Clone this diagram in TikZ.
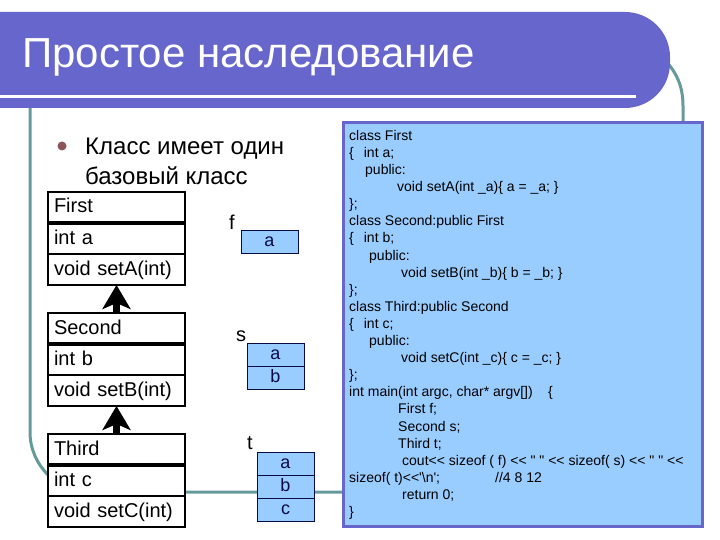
\documentclass[tikz,border=0pt]{standalone}
\usepackage{fontspec}
\setmainfont{Liberation Sans}
\newfontfamily\codefont{Liberation Sans}
\usetikzlibrary{positioning,arrows.meta}
\definecolor{bbtitle}{RGB}{102,102,204}
\definecolor{bbteal}{RGB}{102,153,153}
\definecolor{bbcell}{RGB}{153,204,255}
\definecolor{bbdot}{RGB}{140,85,90}
\definecolor{bbnavy}{RGB}{10,10,70}

\tikzset{
  row/.style={draw, fill=white, line width=1.5pt, outer sep=0pt, text width=125pt,
    inner xsep=6pt, inner ysep=0pt, minimum height=31pt, align=left,
    text height=15pt, text depth=4pt, font=\fontsize{20}{24}\selectfont},
  cell/.style={draw=bbnavy, line width=0.8pt, fill=bbcell, outer sep=0pt,
    minimum width=57pt, minimum height=23pt, inner sep=0pt, text=bbnavy,
    text height=12pt, text depth=3pt, font=\fontsize{18}{20}\selectfont},
  heir/.style={line width=7pt, -{Stealth[length=24pt,width=28pt,inset=6pt]}},
  varname/.style={font=\fontsize{20}{24}\selectfont}
}

\begin{document}
\begin{tikzpicture}[x=1pt,y=-1pt]
  \useasboundingbox (0,0) rectangle (720,540);
  % decoration lines
  \draw[bbteal,line width=3pt] (30,100) -- (30,432) arc[start angle=180,end angle=90,radius=60] -- (343,492);
  \draw[bbteal,line width=3pt] (660,55) .. controls (678,72) and (683,88) .. (683,106) -- (683,123);
  % title
  \fill[bbtitle] (0,12) [rounded corners=45pt] -- (670,12) -- (670,108) [sharp corners] -- (0,108) -- cycle;
  \draw[white,line width=3pt] (0,97) -- (636,97);
  \node[white,anchor=base west,inner sep=0pt,font=\fontsize{42}{48}\selectfont] (title) at (22,68) {Простое наследование};

  % code listing
  \filldraw[fill=bbcell,draw=bbtitle,line width=3pt] (343,123) rectangle (702,526);
  \node[anchor=north west,inner sep=0pt,align=left,font=\codefont\fontsize{14}{17.1}\selectfont] (listing) at (349,130) {class First\\
\{\hspace*{10pt}int a;\\
\hspace*{16pt}public:\\
\hspace*{48pt}void setA(int \_a)\{ a = \_a; \}\\
\};\\
class Second:public First\\
\{\hspace*{10pt}int b;\\
\hspace*{20pt}public:\\
\hspace*{52pt}void setB(int \_b)\{ b = \_b; \}\\
\};\\
class Third:public Second\\
\{\hspace*{10pt}int c;\\
\hspace*{20pt}public:\\
\hspace*{52pt}void setC(int \_c)\{ c = \_c; \}\\
\};\\
\makebox[199pt][l]{int main(int argc, char* argv[])}\{\\
\hspace*{49pt}First f;\\
\hspace*{49pt}Second s;\\
\hspace*{49pt}Third t;\\
\hspace*{53pt}cout<< sizeof ( f) << " " << sizeof( s) << " " <<\\
\makebox[146pt][l]{sizeof( t)<<'\textbackslash n';}//4 8 12\\
\hspace*{53pt}return 0;\\
\}};

  % bullet
  \node[circle,fill=bbdot,inner sep=0pt,minimum size=9pt] (dot) at (62,146) {};
  \node[anchor=north west,inner sep=0pt,align=left,font=\fontsize{24}{30}\selectfont] (intro) at (85,138) {Класс имеет один\\базовый класс};

  % classes
  \node[row,anchor=north west] (firstname) at (48,192) {First};
  \node[row,below=0pt of firstname] (firstfield) {int a};
  \node[row,below=0pt of firstfield] (firstmethod) {void setA(int)};
  \draw[line width=4pt] (firstname.south west) -- (firstname.south east);

  \node[row,anchor=north west] (secondname) at (48,313) {Second};
  \node[row,below=0pt of secondname] (secondfield) {int b};
  \node[row,below=0pt of secondfield] (secondmethod) {void setB(int)};
  \draw[line width=4pt] (secondname.south west) -- (secondname.south east);

  \node[row,anchor=north west] (thirdname) at (48,434) {Third};
  \node[row,below=0pt of thirdname] (thirdfield) {int c};
  \node[row,below=0pt of thirdfield] (thirdmethod) {void setC(int)};
  \draw[line width=4pt] (thirdname.south west) -- (thirdname.south east);

  \draw[heir] (secondname.north) -- (firstmethod.south);
  \draw[heir] (thirdname.north) -- (secondmethod.south);

  % objects in memory
  \node[varname] (f) at (232,222) {f};
  \node[cell,anchor=north west] (fa) at (241,230) {a};

  \node[varname] (s) at (241,336) {s};
  \node[cell,anchor=north west] (sa) at (247,343) {a};
  \node[cell,below=0pt of sa] (sb) {b};

  \node[varname] (t) at (250,443) {t};
  \node[cell,anchor=north west] (ta) at (257,452) {a};
  \node[cell,below=0pt of ta] (tb) {b};
  \node[cell,below=0pt of tb] (tc) {c};
\end{tikzpicture}
\end{document}
